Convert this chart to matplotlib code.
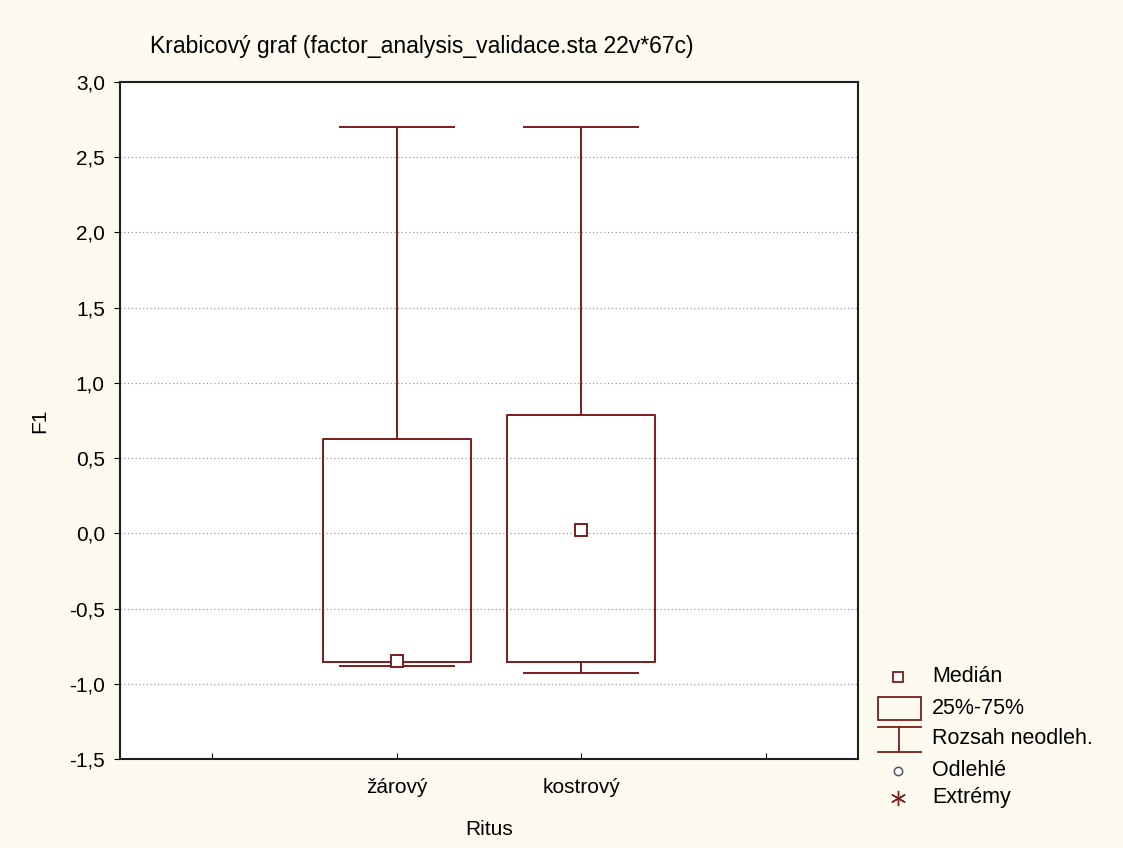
import matplotlib.pyplot as plt
from matplotlib.lines import Line2D
from matplotlib.patches import Rectangle

# box plot summary for each group (F1 factor scores)
groups = ["žárový", "kostrový"]
medians = [-0.85, 0.02]
q1 = [-0.855, -0.855]
q3 = [0.625, 0.785]
whisker_lo = [-0.88, -0.93]
whisker_hi = [2.70, 2.70]

legend_labels = ["Medián", "25%-75%", "Rozsah neodleh.", "Odlehlé", "Extrémy"]

box_color = "#7b1c1c"
bg_color = "#fdfaf0"
fs = 15

plt.rcParams["font.family"] = ["Liberation Sans", "DejaVu Sans"]

fig = plt.figure(figsize=(11.23, 8.48), dpi=100, facecolor=bg_color)
ax = fig.add_axes([0.1069, 0.105, 0.657, 0.7983])
ax.set_facecolor("white")

positions = [1.5, 2.5]
stats = []
for i in range(len(groups)):
    stats.append({
        "med": medians[i], "q1": q1[i], "q3": q3[i],
        "whislo": whisker_lo[i], "whishi": whisker_hi[i],
        "fliers": [], "label": groups[i],
    })

ax.bxp(stats, positions=positions, widths=0.8, capwidths=0.62,
       showfliers=False, manage_ticks=False,
       boxprops=dict(color=box_color, linewidth=1.4),
       whiskerprops=dict(color=box_color, linewidth=1.4),
       capprops=dict(color=box_color, linewidth=1.4),
       medianprops=dict(linewidth=0))
ax.plot(positions, medians, ls="none", marker="s", ms=8, mfc="white",
        mec=box_color, mew=1.4, zorder=5)

ax.set_xlim(0, 4)
ax.set_ylim(-1.5, 3.0)
ax.set_xticks([0.5, 1.5, 2.5, 3.5])
ax.set_xticklabels(["", groups[0], groups[1], ""], fontsize=fs)
ax.tick_params(axis="x", direction="in", length=4, pad=14)
yt = [-1.5 + 0.5 * k for k in range(10)]
ax.set_yticks(yt)
ax.set_yticklabels([f"{v:.1f}".replace(".", ",") for v in yt], fontsize=fs)
ax.tick_params(axis="y", direction="out", length=4, pad=7)
ax.yaxis.grid(True, linestyle=(0, (1, 2)), color="#9a9a9a", linewidth=0.9)
ax.set_axisbelow(True)
for s in ax.spines.values():
    s.set_color("#202020")
    s.set_linewidth(1.5)

ax.set_xlabel("Ritus", fontsize=fs, labelpad=16)
ax.set_ylabel("F1", fontsize=fs, labelpad=14)
fig.text(0.1335, 0.945, "Krabicový graf (factor_analysis_validace.sta 22v*67c)",
         fontsize=16.5, ha="left", va="center")

# legend drawn in its own pixel-scaled axes to the right of the plot
lg = fig.add_axes([0, 0, 1, 1], facecolor="none")
lg.set_xlim(0, 1123)
lg.set_ylim(848, 0)
lg.axis("off")
lg.plot([898], [677], marker="s", ms=7, mfc="white", mec=box_color, mew=1.3)
lg.add_patch(Rectangle((878, 697), 43, 23, fill=False, ec=box_color, lw=1.3))
lg.add_line(Line2D([878, 921], [727, 727], color=box_color, lw=1.3))
lg.add_line(Line2D([878, 921], [752, 752], color=box_color, lw=1.3))
lg.add_line(Line2D([899, 899], [727, 752], color=box_color, lw=1.3))
lg.plot([898], [771], marker="o", ms=6, mfc="white", mec="#555555", mew=1.1)
lg.plot([898], [798], marker=(6, 2, 0), ms=11, color=box_color, mew=1.0)
for yy, txt in zip([677, 708, 739, 771, 798], legend_labels):
    lg.text(932, yy, txt, fontsize=fs + 0.5, ha="left", va="center")

fig.savefig("out.png", dpi=100, facecolor=bg_color)
